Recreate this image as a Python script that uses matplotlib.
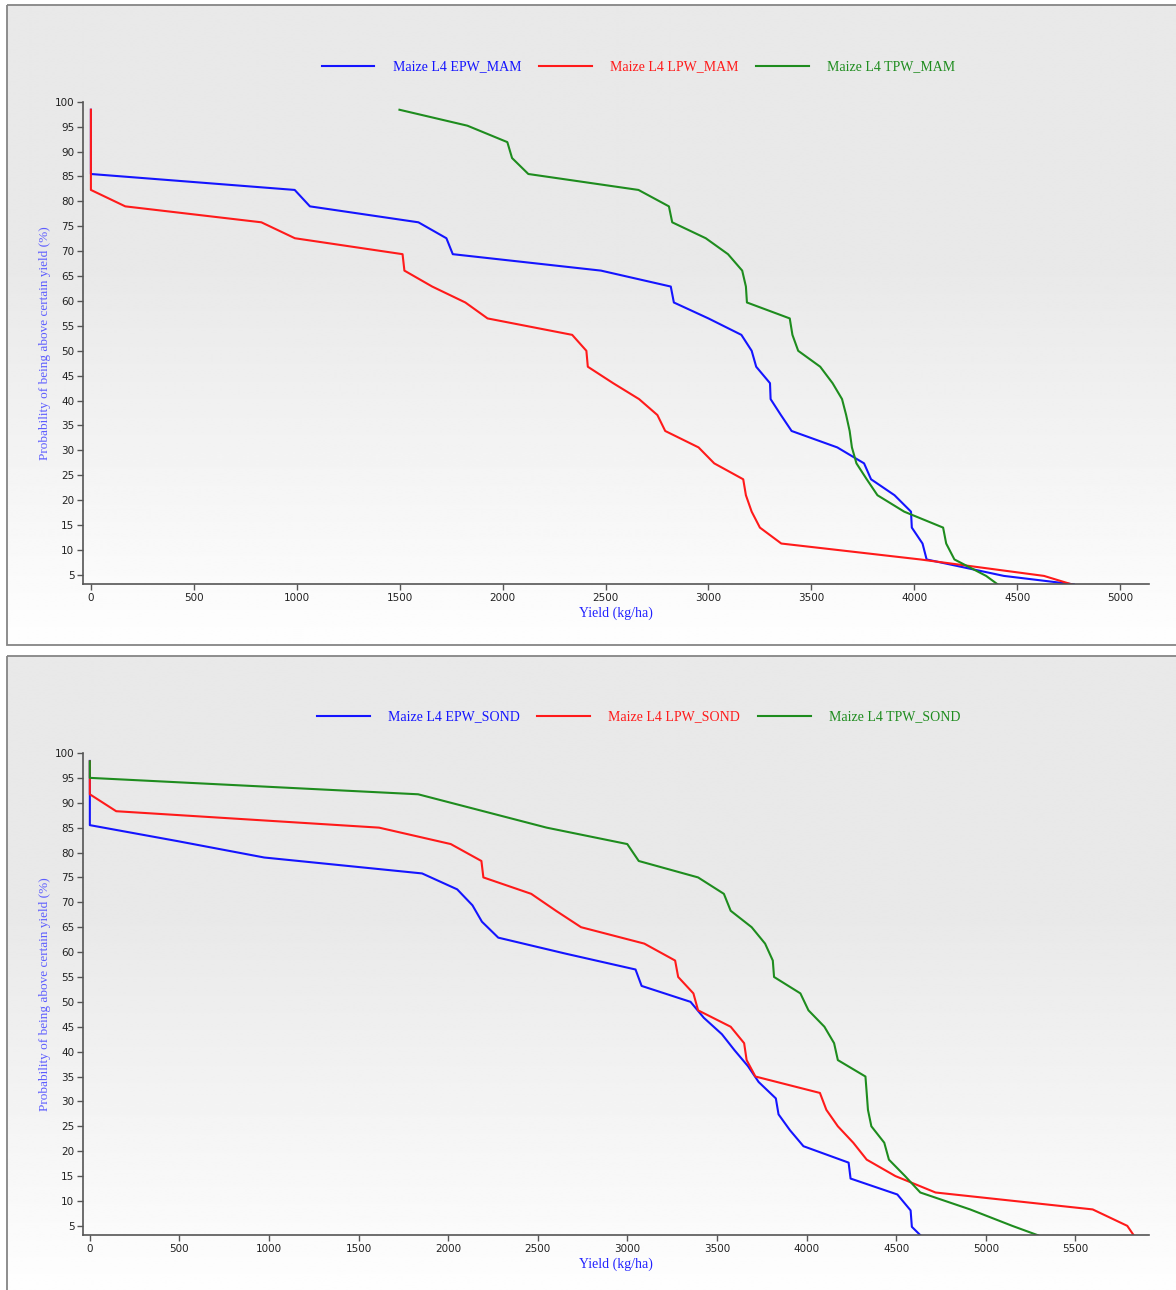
import numpy as np
import matplotlib
matplotlib.use("Agg")
import matplotlib.pyplot as plt
from matplotlib.patches import Rectangle

# probability levels (%) - 31 and 30 year series, last value = axis floor
p31 = [98.4, 95.2, 91.9, 88.7, 85.5, 82.3, 79.0, 75.8, 72.6, 69.4, 66.1, 62.9, 59.7, 56.5, 53.2, 50.0,
       46.8, 43.5, 40.3, 37.1, 33.9, 30.6, 27.4, 24.2, 21.0, 17.7, 14.5, 11.3, 8.1, 4.8, 3.1]
p30 = [98.3, 95.0, 91.7, 88.3, 85.0, 81.7, 78.3, 75.0, 71.7, 68.3, 65.0, 61.7, 58.3, 55.0, 51.7,
       48.3, 45.0, 41.7, 38.3, 35.0, 31.7, 28.3, 25.0, 21.7, 18.3, 15.0, 11.7, 8.3, 5.0, 3.1]

# MAM season yields (kg/ha)
epw_mam = [0, 0, 0, 0, 0, 990, 1064, 1591, 1727, 1758, 2478, 2817, 2832, 3000, 3160, 3210,
           3232, 3299, 3302, 3352, 3404, 3626, 3756, 3790, 3904, 3984, 3988, 4040, 4060, 4435, 4775]
lpw_mam = [0, 0, 0, 0, 0, 0, 167, 828, 991, 1514, 1523, 1658, 1819, 1927, 2338, 2407,
           2414, 2537, 2663, 2752, 2790, 2952, 3028, 3169, 3182, 3210, 3250, 3354, 4030, 4630, 4765]
tpw_mam = [1499, 1829, 2023, 2046, 2125, 2660, 2808, 2824, 2987, 3095, 3164, 3182, 3187, 3395, 3408, 3436,
           3543, 3603, 3649, 3669, 3686, 3697, 3719, 3769, 3821, 3951, 4140, 4155, 4195, 4349, 4405]

# SOND season yields (kg/ha)
epw_sond = [0, 0, 0, 0, 0, 488, 973, 1854, 2050, 2135, 2188, 2279, 2653, 3045, 3079, 3352,
            3426, 3527, 3597, 3672, 3732, 3828, 3843, 3907, 3982, 4234, 4245, 4506, 4580, 4587, 4635]
lpw_sond = [0, 0, 0, 147, 1614, 2014, 2185, 2196, 2463, 2601, 2741, 3094, 3266, 3283, 3368,
            3394, 3576, 3651, 3665, 3714, 4074, 4110, 4174, 4260, 4335, 4495, 4719, 5596, 5789, 5825]
tpw_sond = [0, 0, 1832, 2196, 2549, 2999, 3063, 3394, 3538, 3576, 3693, 3768, 3811, 3818, 3965,
            4010, 4099, 4153, 4174, 4328, 4335, 4342, 4361, 4433, 4459, 4549, 4634, 4912, 5147, 5291]

colors = ['#1414ff', '#ff1a1a', '#1e8c1e']
serif = 'Liberation Serif'

fig = plt.figure(figsize=(11.76, 12.9), dpi=100)

# panel backgrounds (gradient + border), pixel coords
bg = fig.add_axes([0, 0, 1, 1], zorder=-10)
t = np.linspace(0, 1, 300)
shade = np.where(t < 0.42, 233, 233 + (t - 0.42) / 0.58 * 21)
grad = np.repeat(shade[:, None], 2, axis=1)
for top, bot in [(5, 645), (656, 1292)]:
    bg.imshow(grad, cmap='gray', vmin=0, vmax=255, aspect='auto',
              extent=[7, 1180, bot, top], interpolation='bilinear')
    bg.add_patch(Rectangle((7, top), 1180, bot - top, fill=False, edgecolor='#858585', lw=1.3))
bg.set_xlim(0, 1176)
bg.set_ylim(1290, 0)
bg.axis('off')

def draw(rect, series, labels, xmax, xticks, legend_y):
    ax = fig.add_axes(rect)
    ax.set_facecolor('none')
    lines = []
    for (xs, ps), c in zip(series, colors):
        ln, = ax.plot(xs, ps, color=c, lw=1.5)
        lines.append(ln)
    ax.set_xlim(-40, xmax)
    ax.set_ylim(3.1, 100)
    ax.set_yticks(range(5, 101, 5))
    ax.set_xticks(xticks)
    for s in ['top', 'right']:
        ax.spines[s].set_visible(False)
    for s in ['left', 'bottom']:
        ax.spines[s].set_color('#555555')
        ax.spines[s].set_linewidth(1.2)
    ax.tick_params(length=4, width=1, color='#555555', labelsize=7.5, labelcolor='#222222', pad=2)
    ax.set_xlabel('Yield (kg/ha)', family=serif, fontsize=10, color='#2222ff', labelpad=3)
    ax.set_ylabel('Probability of being above certain yield (%)', family=serif, fontsize=9.5,
                  color='#5c5cff', labelpad=3)
    fig.legend(lines, labels, loc='center', bbox_to_anchor=(0.543, legend_y), ncol=3,
               frameon=False, handlelength=3.8, handletextpad=1.3, columnspacing=1.3,
               labelcolor='linecolor', prop={'family': serif, 'size': 10})
    return ax

draw([0.0703, 0.547, 0.9067, 0.3741],
     [(epw_mam, p31), (lpw_mam, p31), (tpw_mam, p31)],
     ['Maize L4 EPW_MAM', 'Maize L4 LPW_MAM', 'Maize L4 TPW_MAM'],
     5140, range(0, 5001, 500), 1 - 67 / 1290)

draw([0.0703, 0.0424, 0.9067, 0.3739],
     [(epw_sond, p31), (lpw_sond, p30), (tpw_sond, p30)],
     ['Maize L4 EPW_SOND', 'Maize L4 LPW_SOND', 'Maize L4 TPW_SOND'],
     5910, range(0, 5501, 500), 1 - 717 / 1290)

fig.savefig('out.png', dpi=100)
